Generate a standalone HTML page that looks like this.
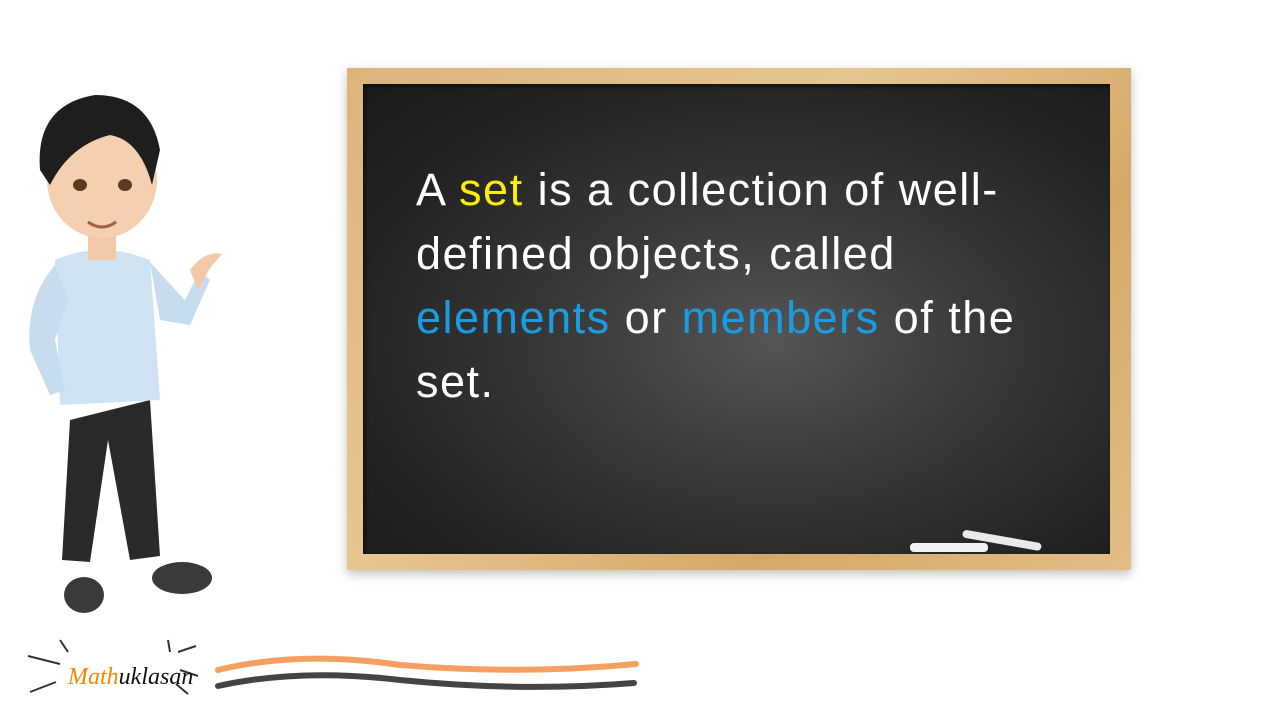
<!DOCTYPE html>
<html><head><meta charset="utf-8">
<style>
html,body{margin:0;padding:0;width:1280px;height:720px;background:#fff;overflow:hidden;font-family:"Liberation Sans",sans-serif;}
#frame{position:absolute;left:347px;top:68px;width:784px;height:502px;background:linear-gradient(135deg,#dcb47c,#e8c590 40%,#d4a867 70%,#e2bd85);box-shadow:0 4px 10px rgba(0,0,0,0.25);}
#board{position:absolute;left:16px;top:16px;width:747px;height:470px;background:radial-gradient(ellipse at 55% 55%,#555 0%,#3a3a3a 35%,#222 75%,#1a1a1a 100%);box-shadow:inset 2px 2px 4px rgba(0,0,0,0.6);}
#text{position:absolute;left:416px;top:158px;width:700px;font-size:45px;letter-spacing:1.5px;line-height:64px;color:#fff;white-space:nowrap;}
.y{color:#ffee00}.b{color:#1a9de0}
</style></head><body>
<div id="frame">
  <div id="board"></div>
</div>
<div id="text">A <span class="y">set</span> is a collection of well-<br>defined objects, called<br><span class="b">elements</span> or <span class="b">members</span> of the<br>set.</div>
<svg width="1280" height="720" style="position:absolute;left:0;top:0">
  <g>
    <rect x="910" y="543" width="78" height="9" rx="4" fill="#f2f2f2"/>
    <rect x="962" y="536" width="80" height="8" rx="4" fill="#eaeaea" transform="rotate(10 1000 540)"/>
  </g>
  <g>
    <path d="M70 420 L62 560 L90 562 L108 440 L130 560 L160 556 L150 400 Z" fill="#2a2a2a"/>
    <ellipse cx="84" cy="595" rx="20" ry="18" fill="#3a3a3a"/>
    <ellipse cx="182" cy="578" rx="30" ry="16" fill="#3a3a3a"/>
    <path d="M55 260 Q100 240 150 260 L160 400 L60 405 Z" fill="#cfe3f3"/>
    <path d="M55 265 Q25 300 30 350 L50 395 L65 390 L55 340 L68 300 Z" fill="#c7dcef"/>
    <path d="M150 262 Q175 290 185 300 L200 270 L210 280 L190 325 L160 320 Z" fill="#c7dcef"/>
    <path d="M190 270 Q205 250 222 254 L210 268 L198 290 Z" fill="#f2c8a6"/>
    <rect x="88" y="225" width="28" height="35" fill="#f2c8a6"/>
    <ellipse cx="102" cy="180" rx="55" ry="58" fill="#f5d0b0"/>
    <path d="M40 170 Q35 105 95 95 Q150 95 160 150 L152 185 Q140 140 110 135 Q70 145 50 185 Z" fill="#1e1e1e"/>
    <ellipse cx="80" cy="185" rx="7" ry="6" fill="#5a3b22"/>
    <ellipse cx="125" cy="185" rx="7" ry="6" fill="#5a3b22"/>
    <path d="M88 222 Q102 232 116 222" stroke="#a0604a" stroke-width="3" fill="none"/>
  </g>
  <g stroke="#333" stroke-width="2" fill="none">
    <path d="M28 656 L60 664"/><path d="M30 692 L56 682"/><path d="M60 640 L68 652"/>
    <path d="M178 652 L196 646"/><path d="M180 670 L198 676"/><path d="M176 684 L188 694"/><path d="M168 640 L170 652"/>
  </g>
  <text x="68" y="684" font-family="Liberation Serif,serif" font-style="italic" font-size="24" fill="#f08a00">Math<tspan fill="#111">uklasan</tspan></text>
  <path d="M218 670 Q300 650 400 665 Q520 675 636 664" stroke="#f5a060" stroke-width="6" fill="none" stroke-linecap="round"/>
  <path d="M218 686 Q300 668 400 680 Q520 692 634 683" stroke="#444" stroke-width="6" fill="none" stroke-linecap="round"/>
</svg>
</body></html>
